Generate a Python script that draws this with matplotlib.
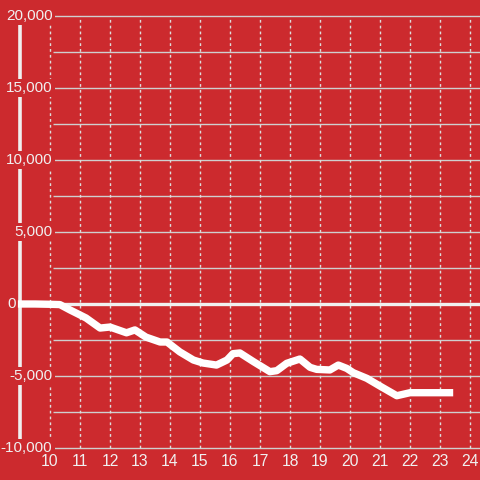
import matplotlib
matplotlib.use("Agg")
import matplotlib.pyplot as plt

# chart values
hours = [8.93, 9.5, 10.0, 10.33, 10.67, 11.2, 11.67, 12.0, 12.55, 12.83, 13.2, 13.67,
         13.9, 14.33, 14.78, 15.1, 15.55, 15.9, 16.1, 16.33, 16.78, 17.33, 17.56,
         17.89, 18.33, 18.67, 18.89, 19.33, 19.61, 19.89, 20.11, 20.56, 21.0,
         21.56, 22.0, 23.44]
balance = [0, 0, -20, -40, -417, -970, -1670, -1600, -2000, -1800, -2300, -2640,
           -2640, -3330, -3890, -4100, -4240, -3890, -3450, -3400, -4000, -4700,
           -4630, -4120, -3820, -4400, -4540, -4580, -4240, -4470, -4770, -5160,
           -5700, -6370, -6160, -6160]

x_ticks = list(range(10, 25))
y_grid = list(range(-10000, 20001, 2500))
y_labels = list(range(-10000, 20001, 5000))

bg = '#cc2a2e'
fg = '#f0f0f0'

plt.rcParams['font.family'] = ['Liberation Sans', 'DejaVu Sans']

fig = plt.figure(figsize=(4.8, 4.8), dpi=100, facecolor=bg)
ax = fig.add_axes([0, 0, 1, 1])
ax.set_facecolor(bg)
ax.set_xlim(10 - 50 / 30, 10 + 430 / 30)
ax.set_ylim(-10000 - 32 / 14.4 * 1000, 20000 + 16 / 14.4 * 1000)
ax.axis('off')

# horizontal grid
ax.hlines(y_grid, 10.1, 24.4, color='#cfcfcf', linewidth=1.0, zorder=1)
# vertical dotted grid
ax.vlines(x_ticks, -10000, 20000, color='#dddddd', linewidth=1.0,
          linestyles=(0, (2, 2.2)), zorder=1)

# left axis and zero line
ax.plot([9.0, 9.0], [19450, -10000], color=fg, linewidth=2.6, zorder=2,
        solid_capstyle='butt')
ax.plot([8.93, 24.4], [0, 0], color=fg, linewidth=2.4, zorder=2,
        solid_capstyle='butt')

# data line
ax.plot(hours, balance, color='white', linewidth=5.3, zorder=4,
        solid_capstyle='butt', solid_joinstyle='round')

# y labels
for v in y_labels:
    if v == 0:
        ax.text(8.87, v, '0', ha='right', va='center', fontsize=11, color=fg,
                zorder=5)
    else:
        ax.text(10.08, v, f'{v:,}', ha='right', va='center', fontsize=11,
                color=fg, zorder=5,
                bbox=dict(facecolor=bg, edgecolor='none', pad=1.5))

# x labels
for t in x_ticks:
    ax.text(t, -10972, str(t), ha='center', va='center', fontsize=11.3,
            color=fg, zorder=5)

fig.savefig('out.png', dpi=100, facecolor=bg)
